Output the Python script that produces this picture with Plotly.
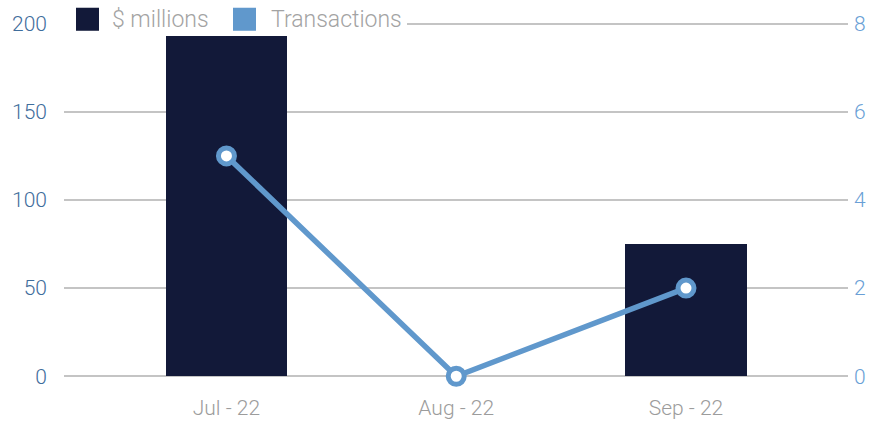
import plotly.graph_objects as go

categories = ["Jul - 22", "Aug - 22", "Sep - 22"]
millions = [193, 0, 75]
transactions = [5, 0, 2]
left_ticks = [0, 50, 100, 150, 200]
right_ticks = [0, 2, 4, 6, 8]
legend_names = ["$ millions", "Transactions"]

NAVY = "#121939"
BLUE = "#6098cc"
FONT = "Roboto"

W, H = 874, 422
# y: 0 -> 376px, 200 -> 24px ; range padded by 1 unit each side so edge gridlines draw
PPU = 352 / 200
L, R = 64, 26
T = 24 - PPU
B = (H - 376) - PPU
pw, ph = W - L - R, H - T - B

def px(x):
    return (x - L) / pw

def py(y):
    return (H - B - y) / ph

fig = go.Figure()
fig.add_trace(go.Bar(x=categories, y=millions, marker=dict(color=NAVY, line=dict(width=0)),
                     width=0.527, name=legend_names[0], showlegend=False))
fig.add_trace(go.Scatter(x=categories, y=transactions, yaxis="y2", mode="lines+markers",
                         line=dict(color=BLUE, width=5.5), cliponaxis=False,
                         marker=dict(size=16, color="white", line=dict(color=BLUE, width=5)),
                         name=legend_names[1], showlegend=False))

shapes = [
    dict(type="rect", xref="paper", yref="paper", x0=px(64), x1=px(407), y0=py(31), y1=py(17),
         fillcolor="white", line_width=0, layer="above"),
    dict(type="rect", xref="paper", yref="paper", x0=px(76), x1=px(99), y0=py(31), y1=py(8),
         fillcolor=NAVY, line_width=0, layer="above"),
    dict(type="rect", xref="paper", yref="paper", x0=px(233), x1=px(256), y0=py(31), y1=py(8),
         fillcolor=BLUE, line_width=0, layer="above"),
]
annotations = [
    dict(text=legend_names[0], xref="paper", yref="paper", x=px(110), y=py(19.5),
         xanchor="left", yanchor="middle", showarrow=False,
         font=dict(family=FONT, size=23, color="#a3a3a3", weight=300)),
    dict(text=legend_names[1], xref="paper", yref="paper", x=px(269), y=py(19.5),
         xanchor="left", yanchor="middle", showarrow=False,
         font=dict(family=FONT, size=23, color="#a3a3a3", weight=300)),
]

fig.update_layout(
    width=W, height=H,
    margin=dict(l=L, r=R, t=T, b=B, pad=0, autoexpand=False),
    paper_bgcolor="white", plot_bgcolor="white",
    font=dict(family=FONT),
    showlegend=False,
    bargap=0,
    hovermode=False,
    shapes=shapes,
    annotations=annotations,
    xaxis=dict(range=[-0.707, 2.705], showgrid=False, zeroline=False, showline=False,
               automargin=False,
               ticks="", tickfont=dict(size=21, color="#9c9c9c", weight=300), ticklabelstandoff=15),
    yaxis=dict(range=[-1, 201], tickvals=left_ticks, showgrid=True, gridcolor="#c4c4c4",
               gridwidth=1.5, zeroline=False, showline=False, ticks="", automargin=False,
               tickfont=dict(size=21, color="#3f6d9c", weight=300), ticklabelstandoff=16),
    yaxis2=dict(range=[-0.04, 8.04], tickvals=right_ticks, overlaying="y", side="right",
                showgrid=False, zeroline=False, showline=False, ticks="", automargin=False,
                tickfont=dict(size=21, color="#6a9fd6", weight=300), ticklabelstandoff=5),
)

fig.write_html("out.html", config={"displayModeBar": False, "staticPlot": True},
               post_script="document.body.style.margin='0';document.body.style.overflow='hidden';")
